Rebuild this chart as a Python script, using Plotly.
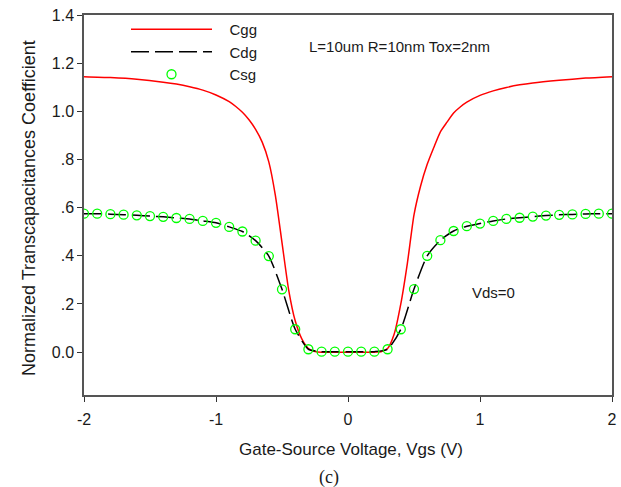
import plotly.graph_objects as go

# ---- data ----
vgs_cgg = [-2.0, -1.8, -1.6, -1.4, -1.3, -1.2, -1.1, -1.0, -0.9, -0.85, -0.8, -0.75, -0.7,
           -0.65, -0.6, -0.55, -0.5, -0.45, -0.4, -0.35, -0.3, -0.25, -0.2, 0.0, 0.2, 0.25,
           0.3, 0.35, 0.4, 0.45, 0.5, 0.55, 0.6, 0.65, 0.7, 0.75, 0.8, 0.85, 0.9, 1.0, 1.1,
           1.2, 1.3, 1.4, 1.6, 1.8, 2.0]
cgg = [1.144, 1.140, 1.133, 1.121, 1.113, 1.102, 1.088, 1.068, 1.040, 1.020, 0.996, 0.965,
       0.925, 0.872, 0.790, 0.650, 0.455, 0.260, 0.130, 0.055, 0.015, 0.003, 0.0, 0.0, 0.0,
       0.002, 0.015, 0.075, 0.200, 0.370, 0.570, 0.690, 0.780, 0.850, 0.915, 0.955, 0.993,
       1.018, 1.038, 1.066, 1.085, 1.099, 1.110, 1.118, 1.129, 1.138, 1.144]

vgs = [-2.0, -1.9, -1.8, -1.7, -1.6, -1.5, -1.4, -1.3, -1.2, -1.1, -1.0, -0.9, -0.8, -0.7,
       -0.6, -0.5, -0.4, -0.3, -0.2, -0.1, 0.0, 0.1, 0.2, 0.3, 0.4, 0.5, 0.6, 0.7, 0.8, 0.9,
       1.0, 1.1, 1.2, 1.3, 1.4, 1.5, 1.6, 1.7, 1.8, 1.9, 2.0]
cdg = [0.575, 0.575, 0.573, 0.571, 0.568, 0.565, 0.562, 0.557, 0.553, 0.545, 0.537, 0.520,
       0.501, 0.463, 0.399, 0.261, 0.095, 0.012, 0.002, 0.002, 0.002, 0.002, 0.002, 0.012,
       0.095, 0.262, 0.400, 0.465, 0.503, 0.523, 0.534, 0.545, 0.553, 0.558, 0.563, 0.567,
       0.570, 0.572, 0.574, 0.575, 0.575]
csg = [0.575, 0.575, 0.573, 0.571, 0.568, 0.565, 0.562, 0.557, 0.553, 0.545, 0.537, 0.520,
       0.501, 0.463, 0.399, 0.261, 0.095, 0.012, 0.002, 0.002, 0.002, 0.002, 0.002, 0.012,
       0.095, 0.262, 0.400, 0.465, 0.503, 0.523, 0.534, 0.545, 0.553, 0.558, 0.563, 0.567,
       0.570, 0.572, 0.574, 0.575, 0.575]

y_tickvals = [0.0, 0.2, 0.4, 0.6, 0.8, 1.0, 1.2, 1.4]
y_ticktext = ["0.0", ".2", ".4", ".6", ".8", "1.0", "1.2", "1.4"]
x_tickvals = [-2, -1, 0, 1, 2]
x_ticktext = ["-2", "-1", "0", "1", "2"]

FONT = "Liberation Sans, Arial, sans-serif"
TXT = "#1a1a1a"
NB = "\u00a0\u00a0\u00a0"

fig = go.Figure()
fig.add_trace(go.Scatter(x=vgs_cgg, y=cgg, mode="lines", name=NB + "Cgg",
                         line=dict(color="#ff0000", width=1.5, shape="spline", smoothing=0.6)))
fig.add_trace(go.Scatter(x=vgs, y=cdg, mode="lines", name=NB + "Cdg",
                         line=dict(color="#000000", width=1.5, dash="18px,6px",
                                   shape="spline", smoothing=0.6)))
fig.add_trace(go.Scatter(x=vgs, y=csg, mode="markers", name=NB + "Csg",
                         marker=dict(symbol="circle-open", size=9, color="#00ff00",
                                     line=dict(width=1.3, color="#00ee00"))))

axis_common = dict(showgrid=False, zeroline=False, showline=True, linecolor="#555555",
                   linewidth=1.5, mirror=True, ticks="outside", ticklen=5, tickwidth=1.2,
                   tickcolor="#333333", automargin=False,
                   tickfont=dict(family=FONT, size=16, color=TXT))

fig.update_xaxes(range=[-2, 2], tickvals=x_tickvals, ticktext=x_ticktext,
                 ticklabelstandoff=4, **axis_common)
fig.update_yaxes(range=[-0.178, 1.4], tickvals=y_tickvals, ticktext=y_ticktext, **axis_common)

fig.update_layout(
    width=621, height=487,
    margin=dict(l=84, r=9, t=15, b=92),
    paper_bgcolor="white", plot_bgcolor="white",
    font=dict(family=FONT, size=15, color=TXT),
    showlegend=True,
    legend=dict(x=(126 - 84) / 528, y=(395 - 13) / 380, xanchor="left", yanchor="top",
                bgcolor="rgba(0,0,0,0)", font=dict(family=FONT, size=15, color=TXT),
                itemwidth=81, tracegroupgap=0),
    annotations=[
        dict(text="Normalized Transcapacitances Coefficient", textangle=-90,
             x=(29 - 84) / 528, y=(395 - 208) / 380, xref="paper", yref="paper",
             xanchor="center", yanchor="middle", showarrow=False,
             font=dict(family=FONT, size=18, color=TXT)),
        dict(text="Gate-Source Voltage, Vgs (V)",
             x=(351 - 84) / 528, y=(395 - 449) / 380, xref="paper", yref="paper",
             xanchor="center", yanchor="middle", showarrow=False,
             font=dict(family=FONT, size=17, color=TXT)),
        dict(text="(c)",
             x=(328.5 - 84) / 528, y=(395 - 477) / 380, xref="paper", yref="paper",
             xanchor="center", yanchor="middle", showarrow=False,
             font=dict(family="Liberation Serif, Times New Roman, serif", size=18, color=TXT)),
        dict(text="L=10um R=10nm Tox=2nm",
             x=(306.7 - 84) / 528, y=(395 - 46.7) / 380, xref="paper", yref="paper",
             xanchor="left", yanchor="middle", showarrow=False,
             font=dict(family=FONT, size=15, color=TXT)),
        dict(text="Vds=0",
             x=(470 - 84) / 528, y=(395 - 292.3) / 380, xref="paper", yref="paper",
             xanchor="left", yanchor="middle", showarrow=False,
             font=dict(family=FONT, size=15, color=TXT)),
    ],
)

fig.write_html("out.html")
